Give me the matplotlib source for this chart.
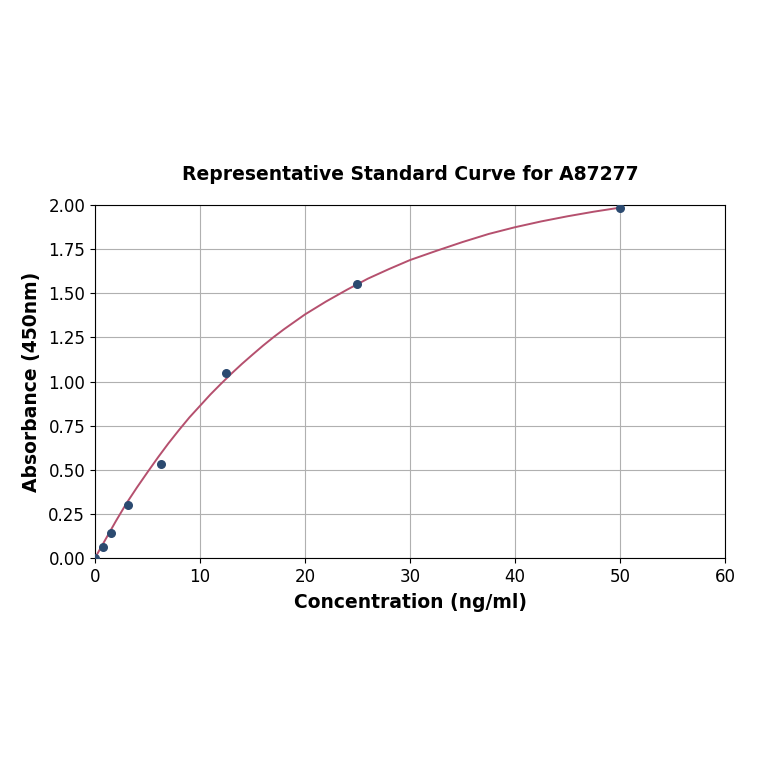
import matplotlib
matplotlib.use("Agg")
import matplotlib.pyplot as plt

# standard points
conc = [0.0, 0.78, 1.56, 3.125, 6.25, 12.5, 25.0, 50.0]
absorb = [0.0, 0.06, 0.14, 0.30, 0.53, 1.05, 1.555, 1.985]

# fitted curve
curve_x = [0, 1, 2, 3, 4, 5, 6, 7, 8, 9, 10, 11, 12, 13, 14, 15, 16, 17,
           18, 19, 20, 22, 24, 26, 28, 30, 32.5, 35, 37.5, 40, 42.5, 45,
           47.5, 50]
curve_y = [0.0, 0.105, 0.21, 0.31, 0.40, 0.486, 0.57, 0.65, 0.725, 0.797,
           0.862, 0.927, 0.987, 1.045, 1.10, 1.152, 1.203, 1.251, 1.296,
           1.338, 1.38, 1.453, 1.52, 1.583, 1.637, 1.688, 1.74, 1.79, 1.836,
           1.874, 1.907, 1.936, 1.962, 1.985]

x_ticks = [0, 10, 20, 30, 40, 50, 60]
y_ticks = [0.0, 0.25, 0.5, 0.75, 1.0, 1.25, 1.5, 1.75, 2.0]

fig = plt.figure(figsize=(7.64, 7.64), dpi=100)
ax = fig.add_axes([0.1243, 0.2696, 0.8247, 0.4621])

ax.plot(curve_x, curve_y, color="#b5506e", lw=1.4, zorder=3)
ax.scatter(conc, absorb, s=30, color="#2b4a70", zorder=4)

ax.set_xlim(0, 60)
ax.set_ylim(0, 2.0)
ax.set_xticks(x_ticks)
ax.set_yticks(y_ticks)
ax.set_yticklabels([f"{v:.2f}" for v in y_ticks])
ax.tick_params(labelsize=12)
ax.grid(True, color="#b0b0b0", lw=0.8)
ax.set_axisbelow(True)

ax.set_title("Representative Standard Curve for A87277", fontsize=13.5,
             fontweight="bold", pad=18)
ax.set_xlabel("Concentration (ng/ml)", fontsize=13.5, fontweight="bold",
              labelpad=5)
ax.set_ylabel("Absorbance (450nm)", fontsize=13.5, fontweight="bold",
              labelpad=5)

fig.savefig("out.png", dpi=100)
